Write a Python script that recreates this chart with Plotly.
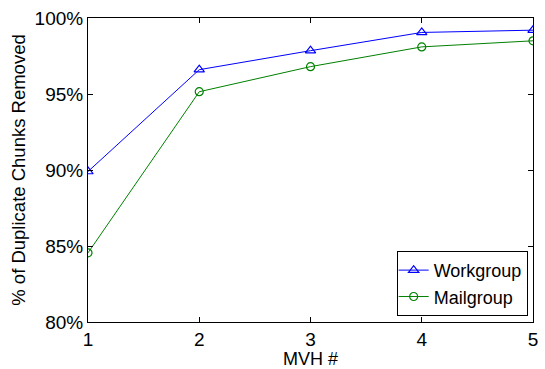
import plotly.graph_objects as go

mvh = [1, 2, 3, 4, 5]
workgroup = [89.9, 96.6, 97.85, 99.05, 99.2]
mailgroup = [84.55, 95.15, 96.8, 98.1, 98.5]
y_ticks = [80, 85, 90, 95, 100]
y_tick_labels = ["80%", "85%", "90%", "95%", "100%"]

FONT = "Liberation Sans, Arial, sans-serif"

fig = go.Figure()
fig.add_trace(go.Scatter(
    x=mvh, y=workgroup, name="Workgroup", mode="lines+markers",
    line=dict(color="#0000ff", width=1),
    marker=dict(symbol="triangle-up-open", size=9, color="#0000ff", line=dict(width=1.2)),
))
fig.add_trace(go.Scatter(
    x=mvh, y=mailgroup, name="Mailgroup", mode="lines+markers",
    line=dict(color="#008000", width=1),
    marker=dict(symbol="circle-open", size=8, color="#008000", line=dict(width=1.2)),
))

axis_common = dict(
    showline=True, linecolor="black", linewidth=1, mirror="ticks",
    ticks="inside", ticklen=5, tickcolor="black", showgrid=False, zeroline=False,
    tickfont=dict(family=FONT, size=19, color="black"),
)

fig.update_layout(
    width=545, height=369,
    margin=dict(l=88, r=7, t=18, b=45),
    paper_bgcolor="white", plot_bgcolor="white",
    font=dict(family=FONT, size=19, color="black"),
    xaxis=dict(range=[1, 5], tickvals=mvh, ticktext=[str(v) for v in mvh],
               title=dict(text="MVH #", standoff=0, font=dict(size=18)), **axis_common),
    yaxis=dict(range=[80, 100], tickvals=y_ticks, ticktext=y_tick_labels,
               title=dict(text="% of Duplicate Chunks Removed", standoff=4, font=dict(size=18.5)),
               **axis_common),
    legend=dict(x=0.988, y=0.02, xanchor="right", yanchor="bottom",
                bordercolor="black", borderwidth=1, bgcolor="white",
                font=dict(size=18), tracegroupgap=0, itemwidth=30,
                indentation=-4),
    showlegend=True,
)

fig.write_html("out.html")
